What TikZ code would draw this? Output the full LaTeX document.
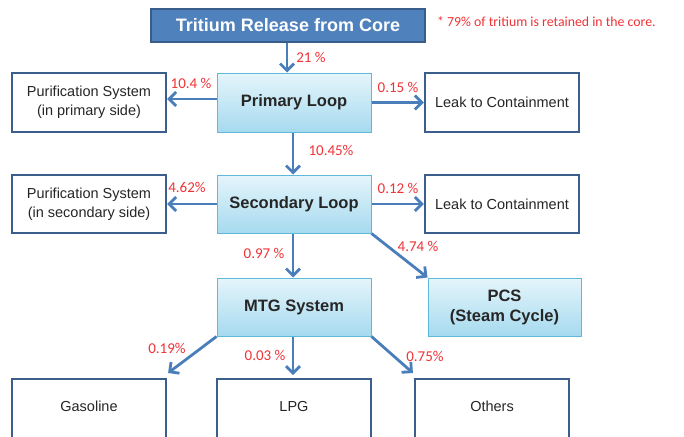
\documentclass[tikz,border=0pt]{standalone}
\usepackage{fontspec}
\setmainfont{Liberation Sans}
\newfontfamily\calib{Carlito}
\usetikzlibrary{arrows.meta}
\definecolor{titlefill}{RGB}{79,129,189}
\definecolor{titledraw}{RGB}{56,93,138}
\definecolor{wbdraw}{RGB}{59,94,140}
\definecolor{lbtop}{RGB}{229,245,251}
\definecolor{lbbot}{RGB}{166,218,239}
\definecolor{lbdraw}{RGB}{95,186,218}
\definecolor{arrowc}{RGB}{74,126,187}
\definecolor{pctred}{RGB}{240,50,55}
\definecolor{txtdark}{RGB}{38,38,38}
\tikzset{
  titlebox/.style={draw=titledraw, fill=titlefill, line width=2pt, minimum width=274pt, minimum height=33pt,
    text=white, font=\fontsize{18}{20}\selectfont\bfseries, inner sep=0pt},
  whitebox/.style={draw=wbdraw, fill=white, line width=2.2pt, minimum width=154pt, minimum height=59pt,
    text=txtdark, font=\fontsize{14.5}{19}\selectfont, align=center, inner sep=0pt},
  bluebox/.style={draw=lbdraw, top color=lbtop, bottom color=lbbot, line width=1pt, minimum width=154pt,
    minimum height=59pt, text=txtdark, font=\fontsize{16.5}{20}\selectfont\bfseries, align=center, inner sep=0pt},
  openbox/.style={whitebox, anchor=north, inner ysep=0pt, text height=32pt, text depth=30pt, minimum height=0pt},
  flow/.style={draw=arrowc, line width=2.8pt, -{Straight Barb[length=7pt,width=14pt]}},
  pct/.style={text=pctred, font=\calib\fontsize{15}{17}\selectfont, inner sep=0pt},
}
\begin{document}
\begin{tikzpicture}[x=1pt,y=-1pt]
\useasboundingbox (0,0) rectangle (684,436);
\clip (0,0) rectangle (684,436);
\fill[white] (0,0) rectangle (684,436);

\node[titlebox] (title) at (288,25.5) {Tritium Release from Core};
\node[anchor=west, text=pctred, font=\calib\fontsize{13.8}{16}\selectfont, inner sep=0pt] (note) at (437,22)
  {* 79\% of tritium is retained in the core.};

\node[bluebox] (prim) at (294,102.5) {Primary Loop};
\node[whitebox] (pur1) at (89,102.5) {Purification System\\(in primary side)};
\node[whitebox] (leak1) at (502,102.5) {Leak to Containment};

\node[bluebox, minimum height=58pt] (sec) at (294,204) {Secondary Loop};
\node[whitebox, minimum height=58pt] (pur2) at (89,204) {Purification System\\(in secondary side)};
\node[whitebox, minimum height=58pt] (leak2) at (502,204) {Leak to Containment};

\node[bluebox, minimum height=58pt] (mtg) at (294,307) {MTG System};
\node[bluebox, minimum height=58pt, minimum width=153pt] (pcs) at (504.5,307) {PCS\\(Steam Cycle)};

\node[openbox] (gas) at (89,378) {Gasoline};
\node[openbox] (lpg) at (294,378) {LPG};
\node[openbox] (oth) at (492,378) {Others};

\draw[flow] ([xshift=-1pt]title.south) -- ([xshift=-1pt]title.south |- prim.north);
\draw[flow] ([yshift=3.5pt]prim.west) -- ([yshift=3.5pt]pur1.east);
\draw[flow] (prim.east) -- (leak1.west);
\draw[flow] ([xshift=-1pt]prim.south) -- ([xshift=-1pt]sec.north);
\draw[flow] (sec.west) -- (pur2.east);
\draw[flow] (sec.east) -- (leak2.west);
\draw[flow] ([xshift=-1pt]sec.south) -- ([xshift=-1pt]mtg.north);
\draw[flow] (sec.south east) -- (pcs.north west);
\draw[flow] (mtg.south west) -- ([xshift=1pt,yshift=5pt]gas.north east);
\draw[flow] ([xshift=-1pt]mtg.south) -- ([xshift=-1pt,yshift=3pt]lpg.north);
\draw[flow] (mtg.south east) -- ([xshift=-1pt,yshift=5pt]oth.north west);

\node[pct] (p21) at (311,57) {21 \%};
\node[pct] (p104) at (191,83) {10.4 \%};
\node[pct] (p015) at (398,87) {0.15 \%};
\node[pct] (p1045) at (331,150) {10.45\%};
\node[pct] (p462) at (187,187) {4.62\%};
\node[pct] (p012) at (398,188) {0.12 \%};
\node[pct] (p097) at (264,253) {0.97 \%};
\node[pct] (p474) at (418,246) {4.74 \%};
\node[pct] (p019) at (167,348) {0.19\%};
\node[pct] (p003) at (265,355) {0.03 \%};
\node[pct] (p075) at (425,356) {0.75\%};
\end{tikzpicture}
\end{document}
